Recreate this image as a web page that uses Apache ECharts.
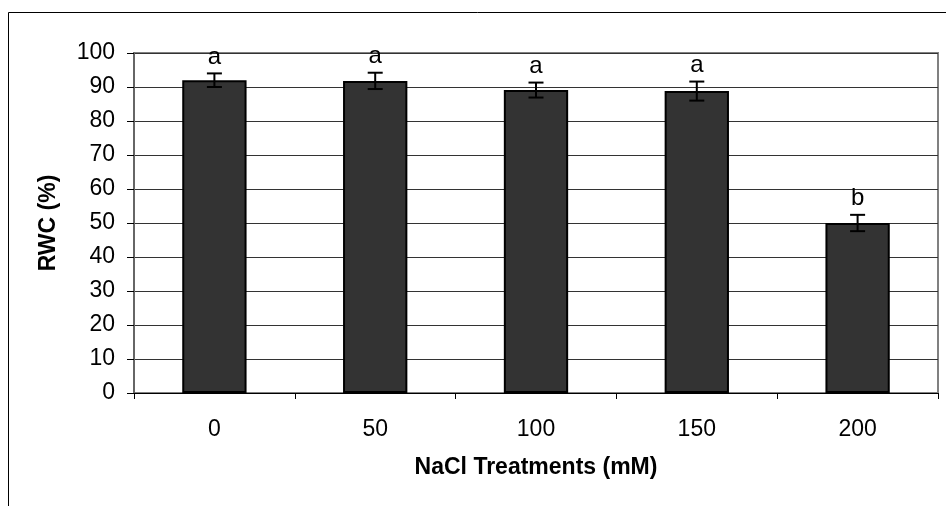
<!DOCTYPE html>
<html>
<head>
<meta charset="utf-8">
<script src="https://cdn.jsdelivr.net/npm/echarts@6/dist/echarts.min.js"></script>
<style>html,body{margin:0;padding:0;background:#fff}#c{width:946px;height:506px}</style>
</head>
<body>
<div id="c"></div>
<script>
const categories = ['0', '50', '100', '150', '200'];
const rwcMean = [92, 91.8, 89.1, 88.8, 50];
const rwcErr = [2.0, 2.4, 2.2, 2.8, 2.4];
const sigLetters = ['a', 'a', 'a', 'a', 'b'];
const yMin = 0, yMax = 100, yStep = 10;

const FONT = '"Liberation Sans", Arial, sans-serif';
const errData = categories.map((c, i) => [i, rwcMean[i] - rwcErr[i], rwcMean[i] + rwcErr[i], sigLetters[i]]);

const chart = echarts.init(document.getElementById('c'), null, {renderer: 'canvas'});
chart.setOption({
  animation: false,
  backgroundColor: '#fff',
  graphic: [
    {type: 'polyline', shape: {points: [[8.5, 506], [8.5, 12.5], [946, 12.5]]}, style: {stroke: '#000', lineWidth: 1, fill: null}, z: 100}
  ],
  grid: {left: 134, right: 8, top: 53, bottom: 113, show: true, borderColor: '#808080', borderWidth: 2, backgroundColor: 'transparent'},
  xAxis: {
    type: 'category',
    data: categories,
    name: 'NaCl Treatments (mM)',
    nameLocation: 'middle',
    nameGap: 63,
    nameTextStyle: {fontFamily: FONT, fontWeight: 'bold', fontSize: 23, color: '#000'},
    axisLine: {lineStyle: {color: '#000', width: 1}},
    axisTick: {show: true, length: 6, lineStyle: {color: '#000'}},
    axisLabel: {fontFamily: FONT, fontSize: 23, color: '#000', margin: 25},
    z: 10
  },
  yAxis: {
    type: 'value',
    min: yMin, max: yMax, interval: yStep,
    name: 'RWC (%)',
    nameLocation: 'middle',
    nameGap: 74,
    nameRotate: 90,
    nameTextStyle: {fontFamily: FONT, fontWeight: 'bold', fontSize: 23, color: '#000'},
    axisLine: {show: true, lineStyle: {color: '#666', width: 2}},
    axisTick: {show: true, length: 7, lineStyle: {color: '#000'}},
    axisLabel: {fontFamily: FONT, fontSize: 23, color: '#000', margin: 19},
    splitLine: {show: true, lineStyle: {color: '#333', width: 1}}
  },
  series: [
    {
      type: 'bar',
      data: rwcMean,
      barWidth: '40%',
      itemStyle: {color: '#333333', borderColor: '#000', borderWidth: 2},
      z: 2
    },
    {
      type: 'custom',
      data: errData,
      z: 5,
      encode: {x: 0, y: [1, 2]},
      renderItem: function (params, api) {
        const idx = api.value(0);
        const lo = api.coord([idx, api.value(1)]);
        const hi = api.coord([idx, api.value(2)]);
        const x = lo[0];
        const cap = 7.5;
        const st = {stroke: '#000', lineWidth: 2};
        return {
          type: 'group',
          children: [
            {type: 'line', shape: {x1: x, y1: lo[1], x2: x, y2: hi[1]}, style: st},
            {type: 'line', shape: {x1: x - cap, y1: lo[1], x2: x + cap, y2: lo[1]}, style: st},
            {type: 'line', shape: {x1: x - cap, y1: hi[1], x2: x + cap, y2: hi[1]}, style: st},
            {type: 'text', style: {text: errData[params.dataIndex][3], x: x, y: hi[1] - 4, textAlign: 'center', textVerticalAlign: 'bottom', font: '24px ' + FONT, fill: '#000'}}
          ]
        };
      }
    }
  ]
});
</script>
</body>
</html>
